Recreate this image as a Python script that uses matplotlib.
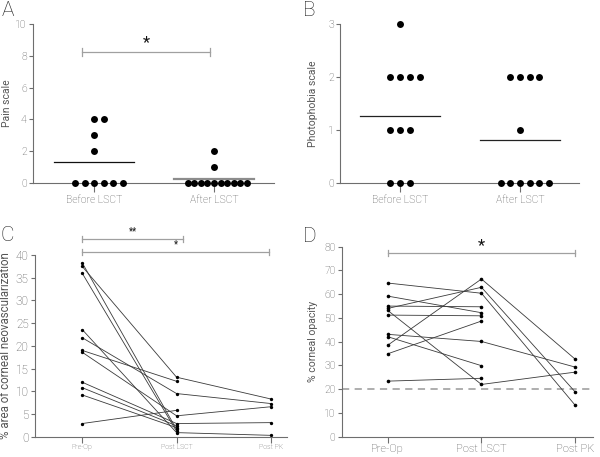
import numpy as np
import matplotlib
matplotlib.use("Agg")
import matplotlib.pyplot as plt

plt.rcParams['font.family'] = ['Roboto', 'DejaVu Sans']
plt.rcParams['font.weight'] = 'light'

# panel A - pain scale
groups_ab = ["Before LSCT", "After LSCT"]
pain_before = [4, 4, 3, 2, 0, 0, 0, 0, 0, 0]
pain_after = [2, 1, 0, 0, 0, 0, 0, 0, 0, 0, 0, 0]

# panel B - photophobia scale
photo_before = [3, 2, 2, 2, 2, 1, 1, 1, 0, 0, 0]
photo_after = [2, 2, 2, 2, 1, 0, 0, 0, 0, 0, 0]

# panel C - % area of corneal neovascularization (one row per eye)
stages = ["Pre-Op", "Post LSCT", "Post PK"]
neo_pre = [38.3, 37.5, 36.0, 23.6, 21.8, 19.0, 18.6, 12.0, 10.8, 9.2, 2.9]
neo_lsct = [1.6, 13.1, 1.2, 0.9, 9.5, 12.2, 4.6, 2.9, 2.4, 2.0, 5.8]
neo_pk = [np.nan, 8.3, np.nan, 0.3, 7.3, np.nan, 6.6, 3.1, np.nan, np.nan, np.nan]

# panel D - % corneal opacity
opa_pre = [64.7, 59.2, 55.0, 54.0, 53.2, 51.2, 43.1, 42.1, 38.5, 34.9, 23.4]
opa_lsct = [60.4, 52.2, 54.7, 62.9, 22.0, 50.9, 40.1, 29.9, 66.4, 48.7, 24.6]
opa_pk = [13.2, np.nan, np.nan, 18.8, 27.2, np.nan, 29.3, np.nan, 32.6, np.nan, np.nan]
opa_threshold = 20

TXT = '#555555'
SPINE = '#6e6e6e'
SIG = '#a0a0a0'

fig = plt.figure(figsize=(6, 4.57), dpi=100)
axA = fig.add_axes([0.055, 0.5996, 0.4017, 0.348])
axB = fig.add_axes([0.5667, 0.5996, 0.398, 0.348])
axC = fig.add_axes([0.0583, 0.0444, 0.42, 0.3976])
axD = fig.add_axes([0.5695, 0.0444, 0.419, 0.4158])


def style(ax, xfs, yfs, xtick_len, xpad):
    for s in ['top', 'right']:
        ax.spines[s].set_visible(False)
    for s in ['left', 'bottom']:
        ax.spines[s].set_color(SPINE)
        ax.spines[s].set_linewidth(0.8)
    ax.tick_params(axis='y', colors=SPINE, labelcolor=TXT, labelsize=yfs,
                   length=3, width=0.8, pad=1.5)
    ax.tick_params(axis='x', colors=SPINE, labelcolor=TXT, labelsize=xfs,
                   length=xtick_len, width=0.8, pad=xpad)


def swarm(ax, xpos, vals, step, ms):
    vals = np.asarray(vals)
    for v in np.unique(vals):
        n = int(np.sum(vals == v))
        offs = (np.arange(n) - (n - 1) // 2) * step
        ax.plot(xpos + offs, [v] * n, 'o', color='black', ms=ms,
                mec='none', clip_on=False, zorder=3)


def sig_bar(ax, x0, x1, y, cap, label, fs, ty):
    ax.plot([x0, x1], [y, y], color=SIG, lw=0.9, clip_on=False)
    ax.plot([x0, x0], [y - cap, y + cap], color=SIG, lw=0.9, clip_on=False)
    ax.plot([x1, x1], [y - cap, y + cap], color=SIG, lw=0.9, clip_on=False)
    ax.text((x0 + x1) / 2, ty, label, ha='center', va='center', fontsize=fs,
            color='#111111', fontweight='normal', clip_on=False)


# A
style(axA, 7.5, 7.5, 6.5, 2.5)
swarm(axA, 0, pain_before, 0.079, 5)
swarm(axA, 1, pain_after, 0.055, 5)
axA.plot([-0.333, 0.333], [np.mean(pain_before)] * 2, color='#111111', lw=0.9)
axA.plot([1 - 0.333, 1 + 0.333], [np.mean(pain_after)] * 2, color='#8c8c8c', lw=1.6)
axA.set_xlim(-0.51, 1.5)
axA.set_ylim(0, 10)
axA.set_yticks([0, 2, 4, 6, 8, 10])
axA.set_xticks([0, 1])
axA.set_xticklabels(groups_ab)
axA.set_ylabel("Pain scale", fontsize=7.5, color=TXT)
axA.yaxis.set_label_coords(-0.088, 0.5)
sig_bar(axA, -0.105, 0.97, 8.25, 0.25, "*", 12, 8.85)

# B
style(axB, 7.5, 7.5, 6.5, 2.5)
swarm(axB, 0, photo_before, 0.083, 5)
swarm(axB, 1, photo_after, 0.08, 5)
axB.plot([-0.333, 0.333], [np.mean(photo_before)] * 2, color='#222222', lw=0.9)
axB.plot([1 - 0.333, 1 + 0.333], [np.mean(photo_after)] * 2, color='#222222', lw=0.9)
axB.set_xlim(-0.5, 1.49)
axB.set_ylim(0, 3)
axB.set_yticks([0, 1, 2, 3])
axB.set_xticks([0, 1])
axB.set_xticklabels(groups_ab)
axB.set_ylabel("Photophobia scale", fontsize=7.5, color=TXT)
axB.yaxis.set_label_coords(-0.094, 0.5)

# C
style(axC, 5, 8.5, 4, 1.5)
for row in zip(neo_pre, neo_lsct, neo_pk):
    axC.plot([0, 1, 2], row, '-', color='#3a3a3a', lw=0.6, marker='o', ms=2.4,
             mfc='black', mec='none', clip_on=False)
axC.set_xlim(-0.5, 2.17)
axC.set_ylim(0, 40)
axC.set_yticks(np.arange(0, 41, 5))
axC.set_xticks([0, 1, 2])
axC.set_xticklabels(stages)
axC.set_ylabel("% area of corneal neovascularization", fontsize=8.3, color=TXT)
axC.yaxis.set_label_coords(-0.09, 0.5)
sig_bar(axC, 0, 1.07, 43.5, 0.6, "**", 7, 45.3)
sig_bar(axC, 0, 1.98, 40.7, 0.6, "*", 7, 42.3)

# D
style(axD, 8, 7.5, 4, 1.5)
axD.axhline(opa_threshold, color='#a8a8a8', lw=1.3, ls=(0, (4, 3)), zorder=1)
for row in zip(opa_pre, opa_lsct, opa_pk):
    axD.plot([0, 1, 2], row, '-', color='#3a3a3a', lw=0.6, marker='o', ms=2.6,
             mfc='black', mec='none', clip_on=False)
axD.set_xlim(-0.49, 2.19)
axD.set_ylim(0, 80)
axD.set_yticks(np.arange(0, 81, 10))
axD.set_xticks([0, 1, 2])
axD.set_xticklabels(stages)
axD.set_ylabel("% corneal opacity", fontsize=7.5, color=TXT)
axD.yaxis.set_label_coords(-0.094, 0.5)
sig_bar(axD, 0, 2, 77.2, 1.3, "*", 12, 80.3)

# panel letters
for lbl, x, y in [("A", 0.002, 0.997), ("B", 0.505, 0.997),
                  ("C", 0.0, 0.506), ("D", 0.505, 0.504)]:
    fig.text(x, y, lbl, fontsize=15, color='#222222', ha='left', va='top')

fig.savefig("out.png", dpi=100)
